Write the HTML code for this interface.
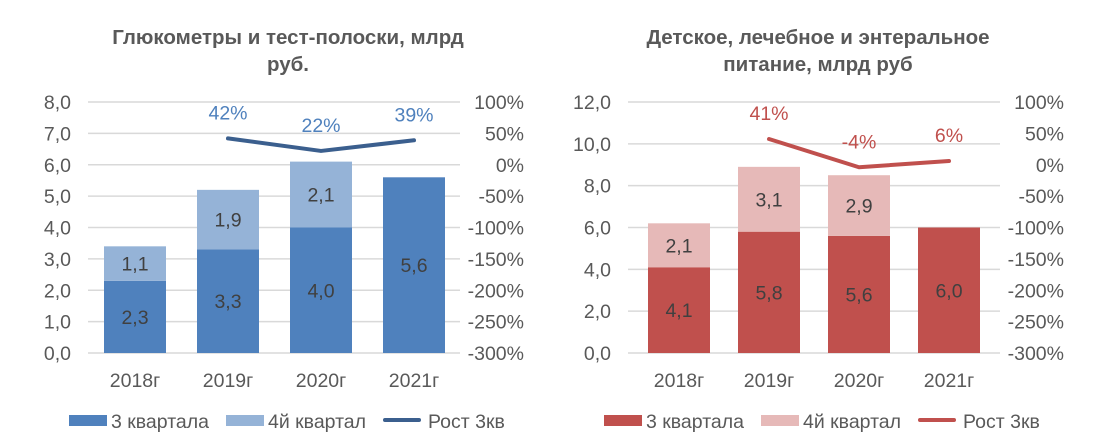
<!DOCTYPE html>
<html><head><meta charset="utf-8"><style>
body{margin:0;background:#fff;width:1101px;height:440px;overflow:hidden}
svg text{font-family:"Liberation Sans","DejaVu Sans",sans-serif}
</style></head><body>
<svg id="svg" width="1101" height="440" xmlns="http://www.w3.org/2000/svg">
<text x="288" y="44" text-anchor="middle" font-size="20.5" font-weight="bold" fill="#595959">Глюкометры и тест-полоски, млрд</text>
<text x="288" y="71" text-anchor="middle" font-size="20.5" font-weight="bold" fill="#595959">руб.</text>
<text x="818" y="44" text-anchor="middle" font-size="20.5" font-weight="bold" fill="#595959">Детское, лечебное и энтеральное</text>
<text x="818" y="71" text-anchor="middle" font-size="20.5" font-weight="bold" fill="#595959">питание, млрд руб</text>
<g id="c1"></g><g id="c2"></g>
</svg>
<script>
const years=["2018г","2019г","2020г","2021г"];
const leftQ3=[2.3,3.3,4.0,5.6];
const leftQ4=[1.1,1.9,2.1,null];
const leftGrowth=[null,42,22,39];
const leftTicks=["0,0","1,0","2,0","3,0","4,0","5,0","6,0","7,0","8,0"];
const rightQ3=[4.1,5.8,5.6,6.0];
const rightQ4=[2.1,3.1,2.9,null];
const rightGrowth=[null,41,-4,6];
const rightTicks=["0,0","2,0","4,0","6,0","8,0","10,0","12,0"];
const pctTicks=["-300%","-250%","-200%","-150%","-100%","-50%","0%","50%","100%"];
const NS="http://www.w3.org/2000/svg";
const FS=19.5;
function mk(g,t,a,txt){const e=document.createElementNS(NS,t);for(const k in a)e.setAttribute(k,a[k]);if(txt!=null)e.textContent=txt;g.appendChild(e);return e;}
function fmt(v){return v.toFixed(1).replace('.',',');}
function draw(g,o){
  const top=102,bot=353,x0=o.x0,x1=o.x1;
  const y=v=>bot-(v/o.max)*(bot-top);
  const yp=p=>bot-((p+300)/400)*(bot-top);
  const bx=i=>o.c0+i*o.step;
  o.ticks.forEach((t,i)=>{const v=i*o.max/(o.ticks.length-1);
    const l=mk(g,'line',{x1:x0,x2:x1,y1:y(v),y2:y(v),stroke:'#d9d9d9','stroke-width':1.5});
    
    
    const tx=mk(g,'text',{x:o.lx,y:y(v)+7,'text-anchor':'end','font-size':FS,fill:'#595959'},t);
    
    
  });
  pctTicks.forEach((t,i)=>{const p=-300+i*50;
    const tx=mk(g,'text',{x:o.rx,y:yp(p)+7,'text-anchor':'end','font-size':FS,fill:'#595959'},t);
    
    
  });
  years.forEach((yr,i)=>{
    const c=bx(i),w=62;
    const r=mk(g,'rect',{x:c-w/2,y:y(o.q3[i]),width:w,height:bot-y(o.q3[i]),fill:o.c1});
    
    
    const t=mk(g,'text',{x:c,y:(y(o.q3[i])+bot)/2+7,'text-anchor':'middle','font-size':FS,fill:'#404040'},fmt(o.q3[i]));
    
    
    if(o.q4[i]!=null){
      const tp=y(o.q3[i]+o.q4[i]);
      const r2=mk(g,'rect',{x:c-w/2,y:tp,width:w,height:y(o.q3[i])-tp,fill:o.c2});
      
      
      const t2=mk(g,'text',{x:c,y:(tp+y(o.q3[i]))/2+7,'text-anchor':'middle','font-size':FS,fill:'#404040'},fmt(o.q4[i]));
      
      
    }
    const xl=mk(g,'text',{x:c,y:387,'text-anchor':'middle','font-size':FS,fill:'#595959'},yr);
    
    
  });
  const pts=[];o.gr.forEach((v,i)=>{if(v!=null)pts.push([bx(i),yp(v),v]);});
  const pl=mk(g,'polyline',{points:pts.map(p=>p[0]+','+p[1]).join(' '),fill:'none',stroke:o.lc,'stroke-width':4,'stroke-linecap':'round','stroke-linejoin':'round'});
  
  
  pts.forEach(p=>{const t=mk(g,'text',{x:p[0],y:p[1]-19,'text-anchor':'middle','font-size':FS,fill:o.tc},p[2]+'%');
    
    });
  const L=o.leg;
  const s1=mk(g,'rect',{x:L,y:415,width:38,height:11,fill:o.c1});
  
  
  const l1=mk(g,'text',{x:L+42,y:428,'font-size':FS,fill:'#595959'},'3 квартала');
  
  
  const s2=mk(g,'rect',{x:L+157,y:415,width:38,height:11,fill:o.c2});
  
  
  const l2=mk(g,'text',{x:L+199,y:428,'font-size':FS,fill:'#595959'},'4й квартал');
  
  
  const s3=mk(g,'line',{x1:L+316,x2:L+350,y1:420,y2:420,stroke:o.lc,'stroke-width':4,'stroke-linecap':'round'});
  
  
  const l3=mk(g,'text',{x:L+359,y:428,'font-size':FS,fill:'#595959'},'Рост 3кв');
  
  
}
draw(document.getElementById('c1'),{x0:88,x1:460,c0:135,step:93,max:8,ticks:leftTicks,lx:71,rx:524,q3:leftQ3,q4:leftQ4,gr:leftGrowth,c1:'#4f81bd',c2:'#95b3d7',lc:'#3b5f8e',tc:'#4f81bd',leg:69});
draw(document.getElementById('c2'),{x0:628,x1:1000,c0:679,step:90,max:12,ticks:rightTicks,lx:611,rx:1064,q3:rightQ3,q4:rightQ4,gr:rightGrowth,c1:'#c0504d',c2:'#e6b9b8',lc:'#c0504d',tc:'#c0504d',leg:604});
</script>
</body></html>
